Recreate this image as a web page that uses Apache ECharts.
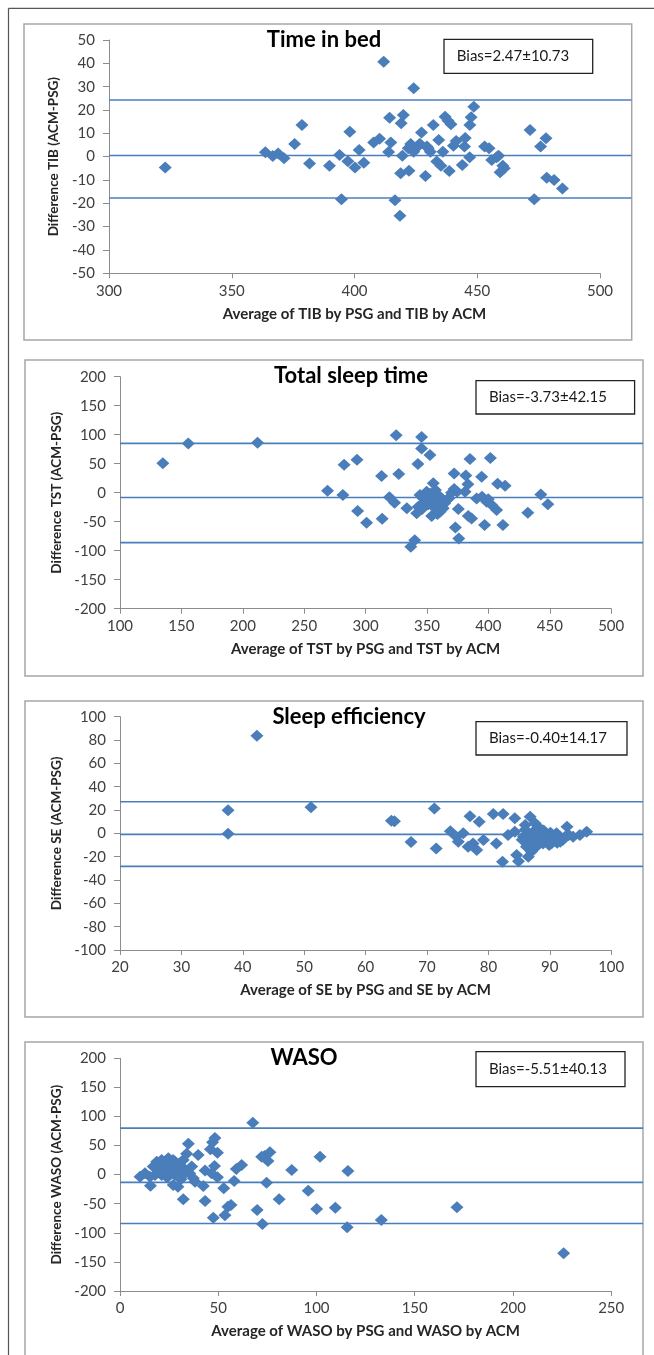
<!DOCTYPE html>
<html><head><meta charset="utf-8">
<script src="https://cdn.jsdelivr.net/npm/echarts@6/dist/echarts.min.js"></script>
<style>html,body{margin:0;padding:0;background:#fff}#c{width:654px;height:1355px}</style>
</head><body><div id="c"></div>
<script>
// ---- Data (Bland-Altman plots) ----
const tibAvg=[322.9,363.7,366.7,368.9,371.3,375.6,378.6,381.7,389.8,393.9,394.7,397.3,398.1,400.2,401.9,403.8,407.8,410.2,411.9,413.9,414.3,414.8,416.5,418.5,418.8,419.0,419.5,419.9,421.9,422.2,422.9,424.1,424.1,425.8,426.6,427.3,428.9,429.5,430.0,430.9,432.1,433.5,434.3,435.2,436.0,436.9,438.1,438.6,439.3,440.3,441.4,443.9,444.8,445.1,446.9,447.0,447.5,448.6,453.0,454.8,455.9,457.9,458.7,459.3,460.4,461.0,471.5,473.2,475.8,478.0,478.3,481.3,484.7];
const tibDiff=[-4.7,1.9,0.3,1.4,-0.7,5.4,13.6,-2.9,-3.9,0.7,-18.3,-2.0,10.7,-4.7,2.9,-2.6,6.1,7.7,40.7,2.0,16.7,6.1,-18.7,-25.3,-7.1,14.3,0.4,17.9,3.6,-6.0,5.4,29.3,2.1,4.3,5.5,10.3,-8.3,4.3,3.6,2.1,13.6,-2.1,7.1,-3.9,2.1,17.1,15.4,-6.1,13.9,4.7,6.7,-3.6,4.3,8.0,-0.3,13.6,16.9,21.4,4.3,3.6,-1.4,-0.3,0.4,-6.7,-3.9,-5.0,11.4,-18.3,4.3,7.9,-9.0,-10.0,-13.6];
const tibLimits=[24.3,0.5,-17.7];

const tstAvg=[134.9,155.6,212,269,281.5,282.5,293,293.5,300.8,313,313.5,319.4,323.6,324.9,327,333.6,336.8,340,342.6,342.9,341.6,344.3,345.6,345.6,349.7,348.3,352.4,353.8,355.1,355.1,355.1,356.8,358.5,360.6,360.6,361.2,363.2,364.3,366,367.7,370,372.1,372.1,373.1,374.5,375.5,375.9,381.6,381,383.3,383.6,385,386.3,390.4,394.5,394.8,396.9,398.6,399.9,401.6,402.7,406.7,407.5,411.8,413.6,432.1,442.7,448.4,347,351,353,357,346,352,362];
const tstDiff=[50.6,85,86,3.4,-4,48.3,56.9,-31.6,-51.7,28.7,-44.8,-8,-17.2,98.9,32.2,-27,-93,-82,49.4,-24.1,-35.6,-4,96,76.4,1.7,-15.5,65,-40.2,16.1,-4,-24.1,4.6,-36.8,-6.9,-32.8,-12.6,-27,-18.4,-12.6,-9.8,0,33,6.5,-59.8,1.7,-28.2,-79,29.5,1.7,14.5,-40,58,-44.3,-9.8,27.6,-6.9,-55.7,-15.5,-11.5,60,-21.3,-29.9,15.5,-55.7,12,-34.5,-2.9,-20.1,-10,-20,-8,-14,-28,-2,-20];
const tstLimits=[85,-8.3,-86];

const seAvg=[37.6,37.6,42.3,51.1,64.2,64.7,67.4,71.2,71.5,73.8,74.8,75.1,75.9,76.7,77,77.5,78.1,78.5,79.2,80.8,81.3,82.3,82.4,83.2,84.3,84.3,84.6,84.9,85.7,86,86.2,86.5,86.5,86.8,87,87.3,87.6,87.8,88.1,88.4,88.9,89.2,89.9,90.1,90.6,91.1,91.2,91.7,92.1,92.5,92.8,93.1,93.8,94.9,96,85.5,86.3,87,87.5,88,88.6,89.5,90.3,86,87.8,89,91.5];
const seDiff=[19.7,-0.3,83.7,22.3,10.9,10.3,-7.4,21.4,-12.9,1.7,-2.9,-7.1,0,-11.4,14.6,-8.6,-14.3,10,-5.7,16.5,-8.6,-24.3,16.5,-1.4,1.4,12.9,-18.6,-24,-2.9,7.1,-11.4,0,-20,14.3,-15.7,1.4,8.6,-11.4,5.7,-1.4,-8.6,-4.3,-10,0.6,-4.3,0,-8,-7.1,-5.7,-2.9,5.7,-1.4,-2.9,-1.4,1.4,-5.5,-3,-6.5,-9,-4,-7.5,-6,-8.5,3,1.5,2.5,-3.5];
const seLimits=[27.1,-0.9,-28.3];

const wasoAvg=[10.2,12.7,15.3,15.5,16.9,17.8,18.7,19.5,21.2,21.2,22,24.6,24.6,25.4,26.5,27.1,28,28,28.8,29.5,30,31.4,32.2,32.2,33.1,33.9,34.8,35.5,36.5,37.3,38.2,39.8,42.4,43.3,43.3,46,46.6,47.1,47.5,48.3,48.1,49.6,49.6,52.8,53.4,54.9,56.5,58.1,59.2,61.9,67.6,69.8,72.1,72.5,73.6,74.6,75.3,76.3,81,87.4,95.8,100.1,101.8,109.6,115.6,116,133,171.5,225.8,20,23,26,29,31,24,27,33];
const wasoDiff=[-3.4,2.3,-3.4,-19,13.8,-0.6,22.3,10.9,25.2,-0.6,13.8,28.1,2.3,16.6,6,-17.8,22.3,-0.6,10.9,-21,18,13.8,25.2,-42.4,2.3,36,53,2,13.8,-6.3,-12,33.8,-19.5,7,-45.5,43.6,2.3,55.6,-74,63,15,37.8,-4.6,-23.5,-70,-55,-52,-10.9,9.7,16.6,89.4,-60.7,30.9,-84.8,32,-13.8,23.5,38.4,-42.4,8,-27.5,-59,30.9,-56.7,-90.5,6.3,-77.9,-56.2,-135.2,5,18,12,3,-8,-5,25,8];
const wasoLimits=[80,-13.2,-84];

// ---- Layout / text ----
const FONT='Lato, "Noto Sans", sans-serif';
const BLUE='#4a7ebb';
const panels=[
 {avg:tibAvg,diff:tibDiff,lim:tibLimits,title:'Time in bed',bias:'Bias=2.47±10.73',
  xName:'Average of TIB by PSG and TIB by ACM',yName:'Difference TIB (ACM-PSG)',
  xMin:300,xMax:500,xInt:50,yMin:-50,yMax:50,yInt:10,
  grid:{left:109,top:40,width:491,height:233.3},extRight:631.5,titlePos:[324,40],
  box:[444,39.3,148.7,34],biasPos:[513,56.5],frame:[24,24,607.7,316],yNameGap:46},
 {avg:tstAvg,diff:tstDiff,lim:tstLimits,title:'Total sleep time',bias:'Bias=-3.73±42.15',
  xName:'Average of TST by PSG and TST by ACM',yName:'Difference TST (ACM-PSG)',
  xMin:100,xMax:500,xInt:50,yMin:-200,yMax:200,yInt:50,
  grid:{left:120,top:376.7,width:491.2,height:232},extRight:643,titlePos:[351,375.7],
  box:[476,380.7,158.6,33.3],biasPos:[548,397.5],frame:[25,360,618,316],yNameGap:55},
 {avg:seAvg,diff:seDiff,lim:seLimits,title:'Sleep efficiency',bias:'Bias=-0.40±14.17',
  xName:'Average of SE by PSG and SE by ACM',yName:'Difference SE (ACM-PSG)',
  xMin:20,xMax:100,xInt:10,yMin:-100,yMax:100,yInt:20,
  grid:{left:120,top:716.7,width:491.2,height:233.3},extRight:643,titlePos:[349,716.7],
  box:[476,721.7,151,33.3],biasPos:[548,738.5],frame:[25,701,618,316],yNameGap:55},
 {avg:wasoAvg,diff:wasoDiff,lim:wasoLimits,title:'WASO',bias:'Bias=-5.51±40.13',
  xName:'Average of WASO by PSG and WASO by ACM',yName:'Difference WASO (ACM-PSG)',
  xMin:0,xMax:250,xInt:50,yMin:-200,yMax:200,yInt:50,
  grid:{left:120,top:1058.3,width:491.2,height:232.7},extRight:643,titlePos:[304,1057.7],
  box:[476,1051.7,149,35],biasPos:[548,1069],frame:[25,1042,618,330],yNameGap:55}
];

const grid=[],xAxis=[],yAxis=[],series=[],graphic=[];
// outer figure border
graphic.push({type:'line',shape:{x1:8.5,y1:8.3,x2:654,y2:8.3},style:{stroke:'#555',lineWidth:1.2},z:0});
graphic.push({type:'line',shape:{x1:8.5,y1:8.3,x2:8.5,y2:1355},style:{stroke:'#555',lineWidth:1.2},z:0});

panels.forEach((p,i)=>{
  const g=p.grid;
  grid.push({left:g.left,top:g.top,width:g.width,height:g.height,containLabel:false});
  grid.push({left:g.left,top:g.top,width:p.extRight-g.left,height:g.height,containLabel:false});
  const gi=i*2, ge=i*2+1;
  const ls={color:'#8c8c8c',width:1};
  xAxis.push({gridIndex:gi,type:'value',min:p.xMin,max:p.xMax,interval:p.xInt,
    axisLine:{show:true,onZero:false,lineStyle:ls},
    axisTick:{show:true,inside:false,length:5,lineStyle:ls},
    splitLine:{show:false},
    axisLabel:{fontFamily:FONT,fontSize:15,color:'#404040',margin:10},
    name:p.xName,nameLocation:'middle',nameGap:33,
    nameTextStyle:{fontFamily:FONT,fontSize:15,fontWeight:'bold',color:'#262626'}});
  yAxis.push({gridIndex:gi,type:'value',min:p.yMin,max:p.yMax,interval:p.yInt,
    axisLine:{show:true,onZero:false,lineStyle:ls},
    axisTick:{show:true,inside:false,length:6,lineStyle:ls},
    splitLine:{show:false},
    axisLabel:{fontFamily:FONT,fontSize:15,color:'#404040',margin:14},
    name:p.yName,nameLocation:'middle',nameGap:p.yNameGap,
    nameTextStyle:{fontFamily:FONT,fontSize:13.5,fontWeight:'bold',color:'#262626'}});
  xAxis.push({gridIndex:ge,type:'value',min:0,max:1,show:false});
  yAxis.push({gridIndex:ge,type:'value',min:p.yMin,max:p.yMax,show:false});
  p.lim.forEach(v=>{
    series.push({type:'line',xAxisIndex:ge,yAxisIndex:ge,data:[[0,v],[1,v]],
      showSymbol:false,symbol:'none',silent:true,z:1,
      lineStyle:{color:BLUE,width:1.6},animation:false});
  });
  series.push({type:'scatter',xAxisIndex:gi,yAxisIndex:gi,
    data:p.avg.map((x,k)=>[x,p.diff[k]]),symbol:'diamond',symbolSize:[13,12],z:3,
    itemStyle:{color:BLUE,opacity:1},animation:false});
  graphic.push({type:'rect',shape:{x:p.frame[0],y:p.frame[1],width:p.frame[2],height:p.frame[3]},
    style:{fill:'none',stroke:'#a6a6a6',lineWidth:1.5},z:0,silent:true});
  graphic.push({type:'text',x:p.titlePos[0],y:p.titlePos[1],z:5,
    style:{text:p.title,font:'bold 22px '+FONT,fill:'#000',textAlign:'center',verticalAlign:'middle',textVerticalAlign:'middle'}});
  graphic.push({type:'rect',shape:{x:p.box[0],y:p.box[1],width:p.box[2],height:p.box[3]},
    style:{fill:'#fff',stroke:'#222',lineWidth:1.3},z:5});
  graphic.push({type:'text',x:p.biasPos[0],y:p.biasPos[1],z:6,
    style:{text:p.bias,font:'15px '+FONT,fill:'#1a1a1a',textAlign:'center',verticalAlign:'middle',textVerticalAlign:'middle'}});
});

const chart=echarts.init(document.getElementById('c'),null,{renderer:'canvas'});
chart.setOption({animation:false,backgroundColor:'#fff',grid,xAxis,yAxis,series,graphic});
</script></body></html>
